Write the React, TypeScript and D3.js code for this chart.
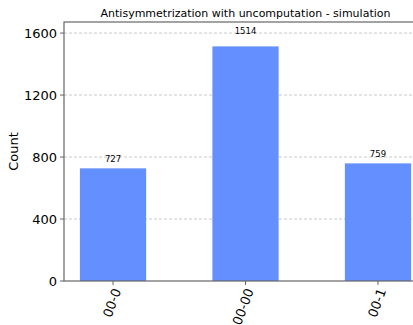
import React, { useEffect, useRef } from 'react';
import * as d3 from 'd3';

const states = ['00-0', '00-00', '00-1'];
const counts = [727, 1514, 759];
const yTicks = [0, 400, 800, 1200, 1600];
const titleText = 'Antisymmetrization with uncomputation - simulation';

export default function App() {
  const ref = useRef<SVGSVGElement | null>(null);

  useEffect(() => {
    if (!ref.current) return;
    const width = 413;
    const height = 325;
    const margin = { top: 22, left: 64, bottom: 44 };
    const plotRight = 427; // plot extends past the visible window
    const innerHeight = height - margin.top - margin.bottom;

    const svg = d3.select(ref.current);
    svg.selectAll('*').remove();
    svg.attr('viewBox', `0 0 ${width} ${height}`);

    const font = 'DejaVu Sans, sans-serif';

    // linear x in index units, like matplotlib's bar positions
    const x = d3.scaleLinear()
      .domain([-0.37, states.length - 1 + 0.37])
      .range([margin.left, plotRight]);
    const barW = x(0.5) - x(0);

    const y = d3.scaleLinear()
      .domain([0, d3.max(counts)! * 1.104])
      .range([margin.top + innerHeight, margin.top]);

    const g = svg.append('g');

    // grid
    g.selectAll('.grid')
      .data(yTicks.filter(t => t > 0))
      .enter()
      .append('line')
      .attr('x1', margin.left)
      .attr('x2', plotRight)
      .attr('y1', d => y(d))
      .attr('y2', d => y(d))
      .attr('stroke', '#bdbdbd')
      .attr('stroke-width', 0.8)
      .attr('stroke-dasharray', '3,2');

    // bars
    g.selectAll('.bar')
      .data(counts)
      .enter()
      .append('rect')
      .attr('x', (_, i) => x(i) - barW / 2)
      .attr('y', d => y(d))
      .attr('width', barW)
      .attr('height', d => y(0) - y(d))
      .attr('fill', '#648fff');

    // value labels sit at 1.05 * height, bottom aligned
    g.selectAll('.val')
      .data(counts)
      .enter()
      .append('text')
      .attr('x', (_, i) => x(i))
      .attr('y', d => y(d * 1.05) - 1)
      .attr('text-anchor', 'middle')
      .attr('font-family', font)
      .attr('font-size', 8.5)
      .attr('fill', '#000')
      .text(d => String(d));

    // spines
    const spine = '#666';
    g.append('rect')
      .attr('x', margin.left)
      .attr('y', margin.top)
      .attr('width', plotRight - margin.left)
      .attr('height', innerHeight)
      .attr('fill', 'none')
      .attr('stroke', spine)
      .attr('stroke-width', 1.2);

    // y axis ticks
    const yAxis = g.append('g');
    yTicks.forEach(t => {
      yAxis.append('line')
        .attr('x1', margin.left - 4)
        .attr('x2', margin.left)
        .attr('y1', y(t))
        .attr('y2', y(t))
        .attr('stroke', spine);
      yAxis.append('text')
        .attr('x', margin.left - 7)
        .attr('y', y(t))
        .attr('dy', '0.35em')
        .attr('text-anchor', 'end')
        .attr('font-family', font)
        .attr('font-size', 13)
        .attr('fill', '#000')
        .text(String(t));
    });

    // x axis ticks
    const xAxis = g.append('g');
    states.forEach((s, i) => {
      const cx = x(i);
      const by = y(0);
      xAxis.append('line')
        .attr('x1', cx)
        .attr('x2', cx)
        .attr('y1', by)
        .attr('y2', by + 4)
        .attr('stroke', spine);
      xAxis.append('text')
        .attr('transform', `translate(${cx + 4},${by + 8}) rotate(-70)`)
        .attr('text-anchor', 'end')
        .attr('dy', '0.35em')
        .attr('font-family', font)
        .attr('font-size', 13)
        .attr('fill', '#000')
        .text(s);
    });

    // y label
    svg.append('text')
      .attr('transform', `translate(18,${margin.top + innerHeight / 2}) rotate(-90)`)
      .attr('text-anchor', 'middle')
      .attr('font-family', font)
      .attr('font-size', 13)
      .attr('fill', '#000')
      .text('Count');

    // title
    svg.append('text')
      .attr('x', (margin.left + plotRight) / 2)
      .attr('y', 17)
      .attr('text-anchor', 'middle')
      .attr('font-family', font)
      .attr('font-size', 11)
      .attr('fill', '#000')
      .text(titleText);
  }, []);

  return (
    <svg
      ref={ref}
      width={413}
      height={325}
      style={{ position: 'absolute', left: 0, top: 0, background: '#fff' }}
    ></svg>
  );
}
